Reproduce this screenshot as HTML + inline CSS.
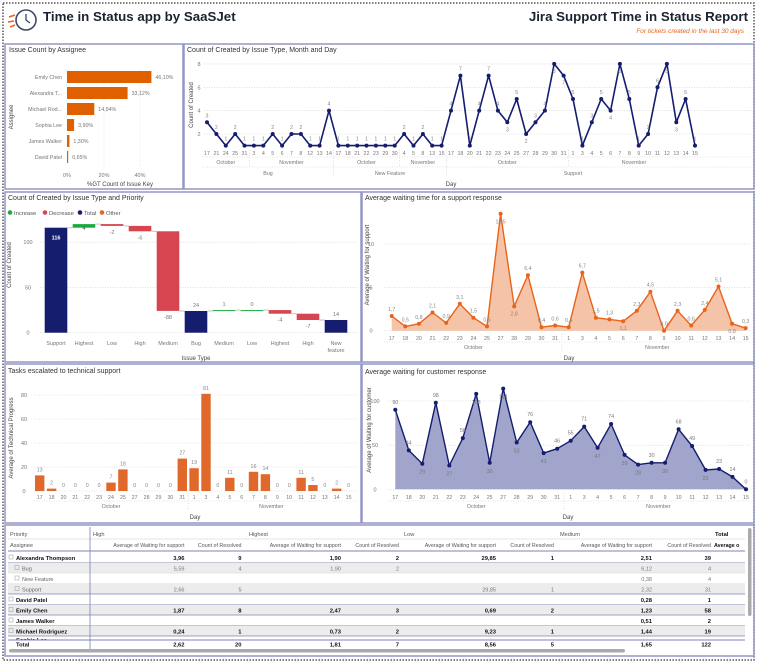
<!DOCTYPE html>
<html><head><meta charset="utf-8"><style>
html,body{margin:0;padding:0;background:#fff;}
svg{display:block;font-family:"Liberation Sans",sans-serif;}
</style></head><body>
<svg id="s" width="757" height="662" viewBox="0 0 757 662" xmlns="http://www.w3.org/2000/svg">
<rect x="0" y="0" width="757" height="662" fill="#fff"/>
<rect x="3" y="3" width="751" height="657" fill="none" stroke="#555" stroke-width="1.5" stroke-dasharray="1.5,1.5"/>
<g stroke="#3b4a66" fill="none" stroke-width="1.6">
<circle cx="26" cy="20" r="10"/><path d="M26 14v6l4 3" stroke-width="1.3"/>
</g>
<g stroke="#e8641b" stroke-width="1.5"><line x1="9" y1="17" x2="15" y2="15"/><line x1="8" y1="22" x2="14" y2="21"/><line x1="10" y1="27" x2="15" y2="25"/></g>
<text x="43" y="21" font-size="13.3" font-weight="bold" fill="#1b2230">Time in Status app by SaaSJet</text>
<text x="748" y="21" font-size="13.3" font-weight="bold" fill="#1b2230" text-anchor="end">Jira Support Time in Status Report</text>
<text x="744" y="33" font-size="6.5" font-style="italic" fill="#e8641b" text-anchor="end">For tickets created in the last 30 days</text>
<g fill="none" stroke="#9497c6" stroke-width="1.5">
<rect x="5" y="44" width="178" height="145"/><rect x="184" y="44" width="570" height="145"/>
<rect x="5" y="192" width="356" height="170"/><rect x="362" y="192" width="392" height="170"/>
<rect x="5" y="364" width="356" height="159"/><rect x="362" y="364" width="392" height="159"/>
<rect x="5" y="525" width="749" height="131"/>
</g>
<g id="g"></g>
</svg>
<script>
var o='';
function T(x,y,s,a){a=a||{};o+='<text x="'+x.toFixed(1)+'" y="'+y.toFixed(1)+'" font-size="'+(a.fs||5.5)+'" fill="'+(a.c||'#777')+'"'+(a.anc?' text-anchor="'+a.anc+'"':'')+(a.fw?' font-weight="'+a.fw+'"':'')+(a.rot?' transform="rotate(-90 '+x+' '+y+')"':'')+'>'+s+'</text>';}
function L(x1,y1,x2,y2,c,w,d){o+='<line x1="'+x1.toFixed(1)+'" y1="'+y1.toFixed(1)+'" x2="'+x2.toFixed(1)+'" y2="'+y2.toFixed(1)+'" stroke="'+c+'" stroke-width="'+(w||0.6)+'"'+(d?' stroke-dasharray="'+d+'"':'')+'/>';}
function R(x,y,w,h,c){o+='<rect x="'+x.toFixed(1)+'" y="'+y.toFixed(1)+'" width="'+w.toFixed(1)+'" height="'+h.toFixed(1)+'" fill="'+c+'"/>';}
var TT={fs:7,c:'#333'};
var NAVY='#141d6e',OR='#e8641b';
T(9,52,'Issue Count by Assignee',TT);
[[67,'0%'],[104,'20%'],[140,'40%']].forEach(function(v){L(v[0],70,v[0],166,'#ddd',0.6,'1,1.5');T(v[0],177,v[1],{anc:'middle'});});
var as=[['Emily Chen',46.10,'46,10%'],['Alexandra T...',33.12,'33,12%'],['Michael Rod...',14.94,'14,94%'],['Sophia Lee',3.9,'3,90%'],['James Walker',1.3,'1,30%'],['David Patel',0.65,'0,65%']];
as.forEach(function(a,i){var y=77+i*16;var w=a[1]*1.83;R(67,y-6,w,12,'#e06000');T(62,y+2,a[0],{anc:'end',fs:5.3});T(67+w+4,y+2,a[2],{fs:5.3});});
T(120,186,'%GT Count of Issue Key',{fs:6,c:'#444',anc:'middle'});
T(13,117,'Assignee',{fs:6,c:'#444',rot:1,anc:'middle'});
T(187,52,'Count of Created by Issue Type, Month and Day',TT);
function y2(v){return 157.3-11.67*v;}
[2,4,6,8].forEach(function(v){L(204,y2(v),752,y2(v),'#ccc',0.6,'1,1.5');T(199,y2(v)+2,v,{anc:'middle'});});
T(193,105,'Count of Created',{fs:6,c:'#444',rot:1,anc:'middle'});
var d2=['17','21','24','25','31','3','4','5','6','7','8','12','13','14','17','18','21','22','23','29','30','4','5','8','13','15','17','18','20','21','22','23','24','25','27','28','29','30','31','1','3','4','5','6','7','8','9','10','11','12','13','14','15'];
var v2=[3,2,1,2,1,1,1,2,1,2,2,1,1,4,1,1,1,1,1,1,1,2,1,2,1,1,4,7,1,4,7,4,3,5,2,3,4,8,7,5,1,3,5,4,8,5,1,2,6,8,3,5,1];
var below2={32:1,34:1,43:1,50:1,37:1,38:1,44:1,49:1};
function x2(i){return 207+i*9.385;}
var pts='';v2.forEach(function(v,i){pts+=x2(i).toFixed(1)+','+y2(v).toFixed(1)+' ';});
o+='<polyline points="'+pts+'" fill="none" stroke="'+NAVY+'" stroke-width="1.6" stroke-linejoin="round"/>';
v2.forEach(function(v,i){o+='<circle cx="'+x2(i).toFixed(1)+'" cy="'+y2(v).toFixed(1)+'" r="2" fill="'+NAVY+'"/>';T(x2(i),below2[i]?y2(v)+9:y2(v)-5,v,{anc:'middle',fs:5.3,c:'#888'});T(x2(i),155,d2[i],{anc:'middle',fs:5.3});});
L(202,157,752,157,'#ccc',0.6,'1,1.5');L(202,167,752,167,'#ccc',0.6,'1,1.5');
[[0,4,'October'],[5,13,'November'],[14,20,'October'],[21,25,'November'],[26,38,'October'],[39,52,'November']].forEach(function(g){T((x2(g[0])+x2(g[1]))/2,164,g[2],{anc:'middle',fs:5.3});});
[4.5,20.5,38.5].forEach(function(i){L(x2(i),150,x2(i),167,'#ccc',0.6,'1,1.5');});
[13.5,25.5].forEach(function(i){L(x2(i),150,x2(i),176,'#ccc',0.6,'1,1.5');});
[[0,13,'Bug'],[14,25,'New Feature'],[26,52,'Support']].forEach(function(g){T((x2(g[0])+x2(g[1]))/2,175,g[2],{anc:'middle',fs:5.3});});
T(451,186,'Day',{fs:6,c:'#444',anc:'middle'});
T(8,200,'Count of Created by Issue Type and Priority',TT);
[['#1aab40','Increase',8],['#d64550','Decrease',43],[NAVY,'Total',78],[OR,'Other',100]].forEach(function(l){o+='<circle cx="'+(l[2]+2)+'" cy="212.5" r="2.3" fill="'+l[0]+'"/>';T(l[2]+6,215,l[1],{fs:5.8,c:'#555'});});
function y3(v){return 332.7-0.905*v;}
[0,50,100].forEach(function(v){L(40,y3(v),358,y3(v),'#ccc',0.6,'1,1.5');T(28,y3(v)+2,v,{anc:'middle'});});
T(11,265,'Count of Created',{fs:6,c:'#444',rot:1,anc:'middle'});
var wf=[['Support',0,116,NAVY,'116','in'],['Highest',116,120,'#1aab40','4','in'],['Low',120,118,'#d64550','-2','b'],['High',118,112,'#d64550','-6','b'],['Medium',112,24,'#d64550','-88','b'],['Bug',0,24,NAVY,'24','a'],['Medium',24,25,'#1aab40','1','a'],['Low',25,25,'#1aab40','0','a'],['Highest',25,21,'#d64550','-4','b'],['High',21,14,'#d64550','-7','b'],['New',0,14,NAVY,'14','a']];
wf.forEach(function(w,i){var cx=56+i*28;var top=Math.max(w[1],w[2]),bot=Math.min(w[1],w[2]);R(cx-11.3,y3(top),22.6,Math.max(y3(bot)-y3(top),1),w[3]);
if(i<10)L(cx+11.3,y3(w[2]),cx+16.7,y3(w[2]),'#ccc',1.2);
if(w[5]=='in')T(cx,y3(top)+(i==0?12:6),w[4],{anc:'middle',fs:5.5,c:i==0?'#fff':'#555',fw:i==0?'bold':null});
else if(w[5]=='b')T(cx,y3(bot)+8,w[4],{anc:'middle',fs:5.5});
else T(cx,y3(top)-4,w[4],{anc:'middle',fs:5.5});
T(cx,345,w[0],{anc:'middle',fs:5.5});});
T(336,352,'feature',{anc:'middle',fs:5.5});
T(196,360,'Issue Type',{fs:6,c:'#444',anc:'middle'});
T(365,200,'Average waiting time for a support response',TT);
function y4(v){return 330.7-8.67*v;}
[0,5,10].forEach(function(v){L(384,y4(v),750,y4(v),'#ccc',0.6,'1,1.5');T(371,y4(v)+2,v,{anc:'middle'});});
T(369,265,'Average of Waiting for support',{fs:6,c:'#444',rot:1,anc:'middle'});
var dd=['17','18','20','21','22','23','24','25','27','28','29','30','31','1','3','4','5','6','7','8','9','10','11','12','13','14','15'];
var v4=[1.7,0.5,0.8,2.1,0.9,3.1,1.5,0.5,13.5,2.8,6.4,0.4,0.6,0.4,6.7,1.5,1.3,1.1,2.3,4.5,0.0,2.3,0.6,2.4,5.1,0.8,0.3];
function x4(i){return 391.7+i*13.615;}
pts='';v4.forEach(function(v,i){pts+=x4(i).toFixed(1)+','+y4(v).toFixed(1)+' ';});
o+='<polygon points="'+x4(0)+','+y4(0)+' '+pts+x4(26).toFixed(1)+','+y4(0)+'" fill="#f4c3a8"/>';
o+='<polyline points="'+pts+'" fill="none" stroke="'+OR+'" stroke-width="1.4" stroke-linejoin="round"/>';
var b4={8:1,9:1,17:1,25:1};
v4.forEach(function(v,i){o+='<circle cx="'+x4(i).toFixed(1)+'" cy="'+y4(v).toFixed(1)+'" r="2" fill="'+OR+'"/>';T(x4(i),b4[i]?y4(v)+(i==8?10:9):y4(v)-5,String(v.toFixed(1)).replace('.',','),{anc:'middle',fs:5.3,c:'#888'});T(x4(i),340,dd[i],{anc:'middle',fs:5.3});});
L(384,342,750,342,'#ccc',0.6,'1,1.5');L(x4(12.5),334,x4(12.5),352,'#ccc',0.6,'1,1.5');
T((x4(0)+x4(12))/2,349,'October',{anc:'middle',fs:5.3});T((x4(13)+x4(26))/2,349,'November',{anc:'middle',fs:5.3});
T(569,360,'Day',{fs:6,c:'#444',anc:'middle'});
T(8,373,'Tasks escalated to technical support',TT);
function y5(v){return 491-1.2*v;}
[0,20,40,60,80].forEach(function(v){L(34,y5(v),358,y5(v),'#ccc',0.6,'1,1.5');T(24,y5(v)+2,v,{anc:'middle'});});
T(13,438,'Average of Technical Progress',{fs:6,c:'#444',rot:1,anc:'middle'});
var v5=[13,2,0,0,0,0,7,18,0,0,0,0,27,19,81,0,11,0,16,14,0,0,11,5,0,2,0];
function x5(i){return 39.7+i*11.88;}
v5.forEach(function(v,i){var x=x5(i);if(v>0)R(x-4.7,y5(v),9.4,v*1.2,'#e0682a');T(x,y5(v)-4,v,{anc:'middle',fs:5.3,c:'#888'});T(x,499,dd[i],{anc:'middle',fs:5.3});});
L(34,501,358,501,'#ccc',0.6,'1,1.5');L(x5(12.5),493,x5(12.5),510,'#ccc',0.6,'1,1.5');
T((x5(0)+x5(12))/2,508,'October',{anc:'middle',fs:5.3});T((x5(13)+x5(26))/2,508,'November',{anc:'middle',fs:5.3});
T(195,519,'Day',{fs:6,c:'#444',anc:'middle'});
T(365,374,'Average waiting for customer response',TT);
function y6(v){return 489.3-0.883*v;}
[0,50,100].forEach(function(v){L(388,y6(v),750,y6(v),'#ccc',0.6,'1,1.5');T(375,y6(v)+2,v,{anc:'middle'});});
T(371,430,'Average of Waiting for customer',{fs:6,c:'#444',rot:1,anc:'middle'});
var v6=[90,44,29,98,27,58,108,30,114,53,76,41,46,55,71,47,74,39,28,30,30,68,49,22,23,14,0];
var b6={2:1,4:1,6:1,7:1,8:1,9:1,11:1,15:1,17:1,18:1,20:1,23:1};
function x6(i){return 395.3+i*13.49;}
pts='';v6.forEach(function(v,i){pts+=x6(i).toFixed(1)+','+y6(v).toFixed(1)+' ';});
o+='<polygon points="'+x6(0)+','+y6(0)+' '+pts+x6(26).toFixed(1)+','+y6(0)+'" fill="#a1a5cc"/>';
o+='<polyline points="'+pts+'" fill="none" stroke="'+NAVY+'" stroke-width="1.4" stroke-linejoin="round"/>';
v6.forEach(function(v,i){o+='<circle cx="'+x6(i).toFixed(1)+'" cy="'+y6(v).toFixed(1)+'" r="2" fill="'+NAVY+'"/>';T(x6(i),b6[i]?y6(v)+10:y6(v)-6,v,{anc:'middle',fs:5.3,c:'#777'});T(x6(i),499,dd[i],{anc:'middle',fs:5.3});});
L(388,501,750,501,'#ccc',0.6,'1,1.5');L(x6(12.5),493,x6(12.5),510,'#ccc',0.6,'1,1.5');
T((x6(0)+x6(12))/2,508,'October',{anc:'middle',fs:5.3});T((x6(13)+x6(26))/2,508,'November',{anc:'middle',fs:5.3});
T(568,519,'Day',{fs:6,c:'#444',anc:'middle'});
var F={fs:5.6,c:'#555'};
T(10,536,'Priority',F);T(93,536,'High',F);T(249,536,'Highest',F);T(404,536,'Low',F);T(560,536,'Medium',F);T(715,536,'Total',{fs:5.8,c:'#111',fw:'bold'});
L(8,539,745,539,'#ccc',0.5);
T(10,547,'Assignee',F);
var ends=[184.5,241.5,341,399,496,554,652,711];
ends.forEach(function(e,i){T(e,547,i%2?'Count of Resolved':'Average of Waiting for support',{fs:5.3,c:'#555',anc:'end'});});
T(714,547,'Average o',{fs:5.3,c:'#111',fw:'bold'});
L(8,551,745,551,'#7c80b8',1);
var rows=[['Alexandra Thompson',1,0,['3,96','9','1,90','2','29,85','1','2,51','39']],
['Bug',0,1,['5,59','4','1,90','2','','','6,12','4']],
['New Feature',0,0,['','','','','','','0,38','4']],
['Support',0,1,['2,66','5','','','29,85','1','2,32','31']],
['David Patel',1,0,['','','','','','','0,28','1']],
['Emily Chen',1,1,['1,87','8','2,47','3','0,69','2','1,23','58']],
['James Walker',1,0,['','','','','','','0,51','2']],
['Michael Rodriguez',1,1,['0,24','1','0,73','2','9,23','1','1,44','19']]];
rows.forEach(function(r,i){var top=552+i*10.5;if(r[2])R(8,top,737,10.5,'#ececec');var y=top+7.8;
var x=r[1]?9:15;o+='<rect x="'+(x)+'" y="'+(top+3)+'" width="4" height="4" fill="none" stroke="#999" stroke-width="0.5"/>';
T(x+7,y,r[0],r[1]?{fs:5.8,c:'#111',fw:'bold'}:{fs:5.5,c:'#666'});
r[3].forEach(function(v,j){if(v)T(ends[j],y,v,r[1]?{fs:5.8,c:'#111',fw:'bold',anc:'end'}:{fs:5.5,c:'#777',anc:'end'});});
if(r[1]||i==3)L(8,top+10.5,745,top+10.5,'#7c80b8',0.8);else L(8,top+10.5,745,top+10.5,'#d8d8d8',0.5);});
o+='<svg x="8" y="636" width="737" height="4" overflow="hidden"><text x="8" y="6" font-size="5.8" font-weight="bold" fill="#111">Sophia Lee</text></svg>';
L(8,640,745,640,'#7c80b8',1);
T(16,646.5,'Total',{fs:5.8,c:'#111',fw:'bold'});
['2,62','20','1,81','7','8,56','5','1,65','122'].forEach(function(v,j){T(ends[j],646.5,v,{fs:5.8,c:'#111',fw:'bold',anc:'end'});});
L(90,527,90,650,'#7c80b8',0.8);
o+='<rect x="9" y="649" width="616" height="3.5" rx="1.7" fill="#aaa"/>';
o+='<rect x="748" y="528" width="3.5" height="88" rx="1.7" fill="#aaa"/>';
document.getElementById('g').innerHTML=o;
</script>
</body></html>
